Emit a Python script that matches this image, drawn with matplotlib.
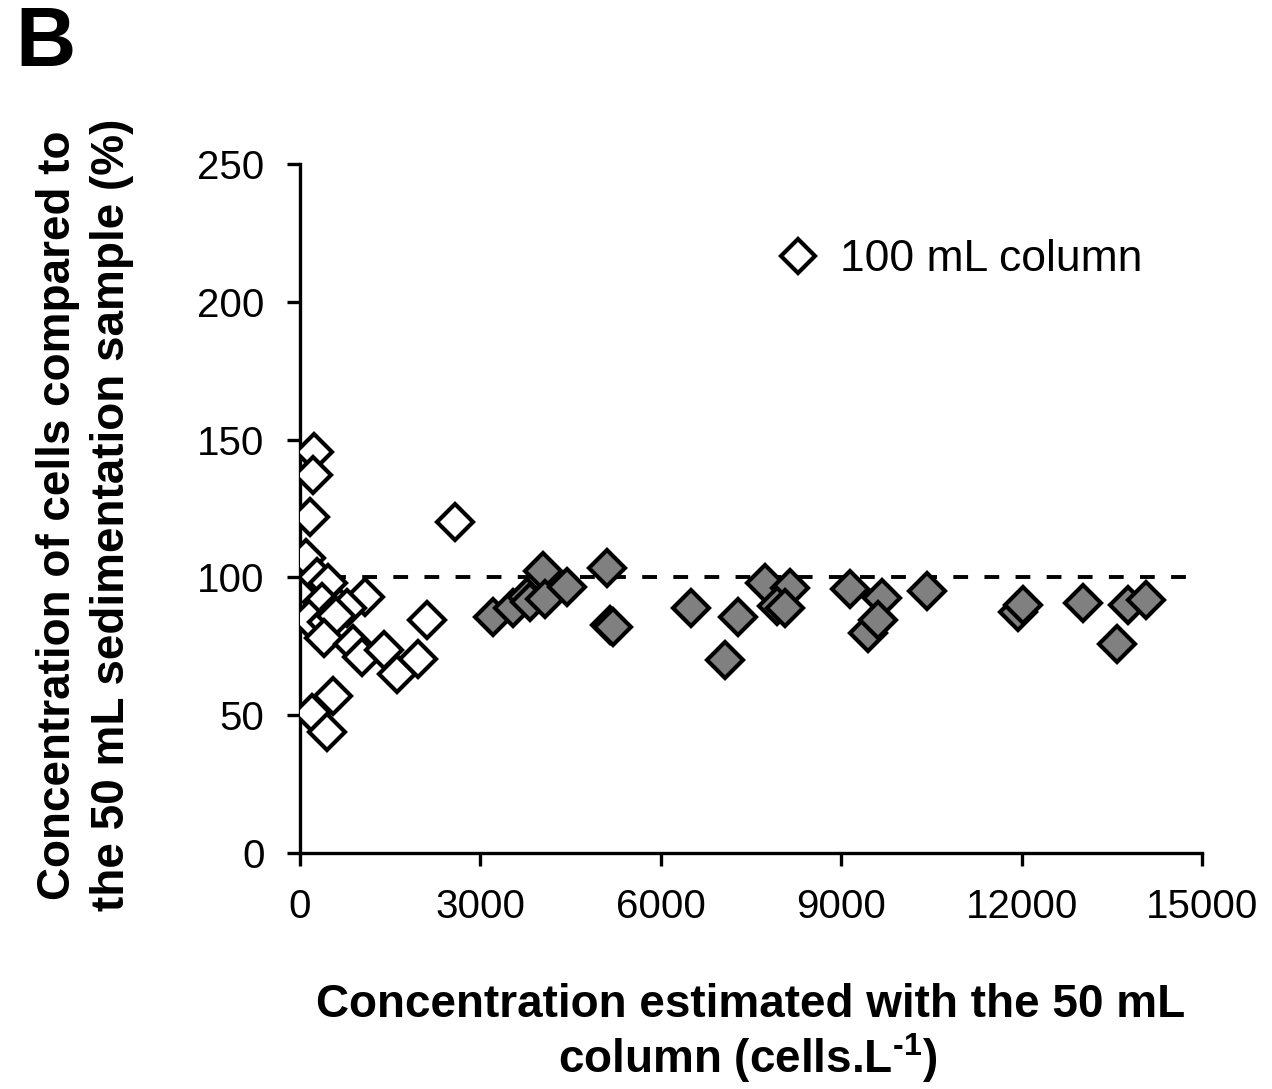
import numpy as np
import matplotlib
matplotlib.use("Agg")
import matplotlib.pyplot as plt

plt.rcParams['font.family'] = ['Liberation Sans', 'DejaVu Sans']
plt.rcParams['mathtext.fontset'] = 'custom'
plt.rcParams['mathtext.rm'] = 'Liberation Sans:bold'
plt.rcParams['mathtext.bf'] = 'Liberation Sans:bold'

# 100 mL column points (open diamonds)
white_x = [233, 216, 166, 100, 2580, 283, 466, 1081, 366, 666, 783,
           150, 450, 600, 2113, 400, 880, 1030, 1400, 1614, 1963,
           550, 200, 450]
white_y = [145.5, 137, 122, 107, 120, 100, 98, 93, 91, 89, 89,
           85, 84, 86, 84.5, 78, 76, 71, 73.5, 65, 70.5,
           57, 50.8, 44]

# grey diamonds
grey_x = [3210, 3544, 3777, 3827, 4043, 4077, 4443, 5108, 5158, 5208,
          6506, 7072, 7288, 7737, 8153, 7937, 8070, 9151, 9684, 9451,
          9617, 10432, 11947, 12030, 13028, 13777, 14060, 13594]
grey_y = [85.6, 89, 93, 91, 102.5, 92, 96.5, 103.4, 82.7, 82,
          89, 70, 85.6, 98, 96, 89.5, 89, 95.8, 92.5, 79.8,
          84.5, 95, 87.4, 90, 90.7, 90, 91.8, 76]

xticks = [0, 3000, 6000, 9000, 12000, 15000]
yticks = [0, 50, 100, 150, 200, 250]
ref_level = 100

fig = plt.figure(figsize=(12.72, 10.89), dpi=100)
ax = fig.add_axes([0.2358, 0.2167, 0.7092, 0.6327])

ax.axhline(ref_level, color='black', lw=2.8, ls=(0, (3.8, 4.2)), zorder=1)
ax.plot(grey_x, grey_y, ls='none', marker='D', ms=18.5, mfc='#808080',
        mec='black', mew=3, zorder=3)
ax.plot(white_x, white_y, ls='none', marker='D', ms=18.5, mfc='white',
        mec='black', mew=3, zorder=4, label='100 mL column')

ax.set_xlim(0, 15000)
ax.set_ylim(0, 250)
ax.set_xticks(xticks)
ax.set_yticks(yticks)
for s in ['top', 'right']:
    ax.spines[s].set_visible(False)
for s in ['left', 'bottom']:
    ax.spines[s].set_linewidth(2.4)
ax.tick_params(direction='out', length=9.5, width=2.4, labelsize=29, pad=16)

ax.legend(loc='center left', bbox_to_anchor=(0.527, 0.861), frameon=False,
          fontsize=32, handlelength=1, handletextpad=0.45, borderpad=0,
          borderaxespad=0, markerscale=0.95)

fig.text(0.0668, 0.527, "Concentration of cells compared to\nthe 50 mL sedimentation sample (%)",
         rotation=90, ha='center', va='center', fontsize=33, fontweight='bold',
         linespacing=1.32)
fig.text(0.59, 1 - 1017 / 1089, "Concentration estimated with the 50 mL",
         ha='center', va='baseline', fontsize=33, fontweight='bold')
fig.text(0.588, 1 - 1073 / 1089, r"column (cells.L$^{\text{-1}}$)",
         ha='center', va='baseline', fontsize=33, fontweight='bold')
fig.text(0.012, 0.995, "B", ha='left', va='top', fontsize=60, fontweight='bold')

fig.savefig("out.png", dpi=100)
